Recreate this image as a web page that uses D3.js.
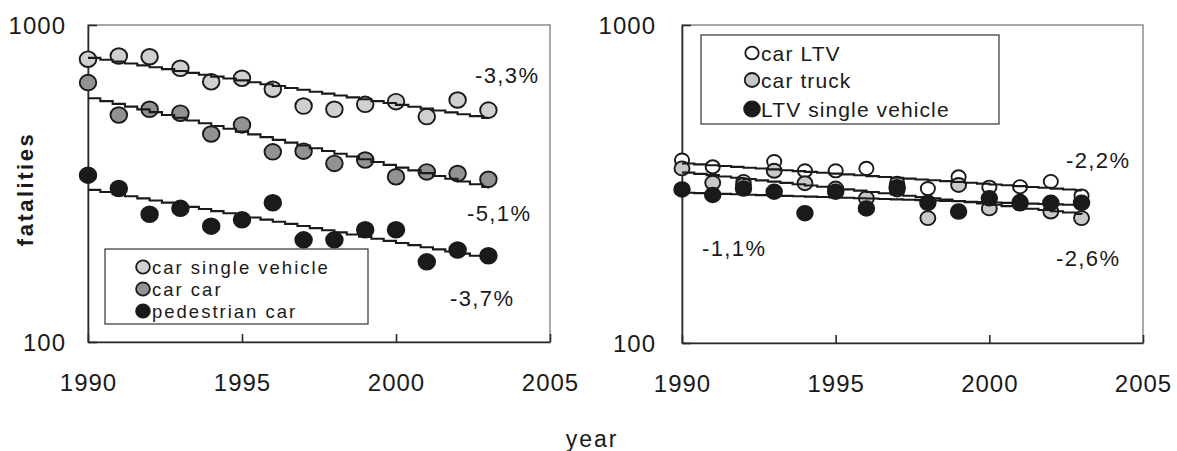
<!DOCTYPE html>
<html>
<head>
<meta charset="utf-8">
<script src="https://cdn.jsdelivr.net/npm/d3@7"></script>
<style>
  html, body { margin: 0; padding: 0; background: #fff; }
  svg { display: block; font-family: 'Liberation Sans', Arial, sans-serif; }
  .axis text { font-size: 24px; letter-spacing: 1px; fill: #1a1a1a; }
  .legend text { font-size: 21px; letter-spacing: 1.1px; fill: #1a1a1a; }
  .legend.small text { font-size: 18.5px; letter-spacing: 2px; }
  .rate { font-size: 22px; letter-spacing: 1.4px; fill: #1a1a1a; }
</style>
</head>
<body>
<div id="chart"></div>
<script>
// data
const years = [1990, 1991, 1992, 1993, 1994, 1995, 1996, 1997, 1998, 1999, 2000, 2001, 2002, 2003];

const carSingle = [780, 798, 794, 730, 662, 679, 627, 555, 542, 562, 573, 514, 580, 539];
const carCar = [658, 520, 542, 527, 453, 484, 398, 400, 366, 375, 332, 344, 340, 326];
const pedestrianCar = [336, 305, 253, 264, 232, 243, 275, 210, 210, 226, 226, 179, 195, 187];

const carLTV = [376, 358, 322, 372, 348, 348, 354, 318, 306, 333, 309, 310, 322, 290];
const carTruck = [354, 319, 314, 348, 318, 306, 285, 304, 247, 314, 265, 278, 259, 247];
const ltvSingle = [304, 292, 306, 299, 256, 299, 265, 309, 276, 259, 285, 275, 276, 276];

const leftNames = ['car single vehicle', 'car car', 'pedestrian car'];
const rightNames = ['car LTV', 'car truck', 'LTV single vehicle'];
const leftRates = ['-3,3%', '-5,1%', '-3,7%'];
const rightRates = ['-2,2%', '-2,6%', '-1,1%'];

const xTicks = [1990, 1995, 2000, 2005];
const yTicks = [100, 1000];

const W = 1177;
const H = 451;

const svg = d3.select('#chart').append('svg')
    .attr('width', W)
    .attr('height', H);

// log-linear least squares fit, evaluated in small steps (the stair look of the original)
function trend(values) {
  const ly = values.map(Math.log);
  const mx = d3.mean(years);
  const my = d3.mean(ly);
  const b = d3.sum(years, (x, i) => (x - mx) * (ly[i] - my)) / d3.sum(years, x => (x - mx) ** 2);
  const a = my - b * mx;
  const pts = [];
  for (let t = years[0]; t <= years[years.length - 1] + 1e-9; t += 0.4) {
    pts.push([t, Math.exp(a + b * t)]);
  }
  pts.push([years[years.length - 1], Math.exp(a + b * years[years.length - 1])]);
  return pts;
}

function panel(opts) {
  const { left, right, top, bottom, series, legend, rates } = opts;

  const x = d3.scaleLinear().domain([1990, 2005]).range([left, right]);
  const y = d3.scaleLog().domain([100, 1000]).range([bottom, top]);

  const g = svg.append('g');

  // plot area border
  g.append('rect')
      .attr('x', left)
      .attr('y', top)
      .attr('width', right - left)
      .attr('height', bottom - top)
      .attr('fill', 'none')
      .attr('stroke', '#8c8c8c')
      .attr('stroke-width', 1.5);

  // axes
  const xAxis = d3.axisBottom(x)
      .tickValues(xTicks)
      .tickFormat(d3.format('d'))
      .tickSizeInner(-8)
      .tickSizeOuter(0)
      .tickPadding(31);

  const yAxis = d3.axisLeft(y)
      .tickValues(yTicks)
      .tickFormat(d3.format('d'))
      .tickSizeInner(-9)
      .tickSizeOuter(0)
      .tickPadding(opts.yPad);

  g.append('g')
      .attr('class', 'x axis')
      .attr('transform', `translate(0, ${bottom})`)
      .call(xAxis);

  g.append('g')
      .attr('class', 'y axis')
      .attr('transform', `translate(${left}, 0)`)
      .call(yAxis);

  g.selectAll('.axis path, .axis line')
      .attr('stroke', '#2a2a2a')
      .attr('stroke-width', 1.6);
  g.selectAll('.axis text')
      .attr('font-family', null)
      .attr('font-size', null);
  g.selectAll('.x.axis text').attr('dy', null).attr('dominant-baseline', 'hanging');
  g.selectAll('.y.axis text').attr('dy', '0.36em');

  // markers
  series.forEach(s => {
    g.append('g').selectAll('ellipse')
      .data(s.values.map((v, i) => [years[i], v]))
      .join('ellipse')
        .attr('cx', d => x(d[0]))
        .attr('cy', d => y(d[1]))
        .attr('rx', s.r + 0.5)
        .attr('ry', s.r)
        .attr('fill', s.fill)
        .attr('stroke', '#1a1a1a')
        .attr('stroke-width', 1.9);
  });

  // trend lines
  const line = d3.line()
      .curve(d3.curveStepAfter)
      .x(d => x(d[0]))
      .y(d => y(d[1]));

  series.forEach(s => {
    g.append('path')
        .datum(trend(s.values))
        .attr('fill', 'none')
        .attr('stroke', '#1a1a1a')
        .attr('stroke-width', 2.1)
        .attr('d', line);
  });

  // growth rate labels
  g.selectAll('.rate')
    .data(rates)
    .join('text')
      .attr('class', 'rate')
      .attr('x', d => d.x)
      .attr('y', d => d.y)
      .attr('dy', '0.36em')
      .text(d => d.text);

  // legend
  const lg = g.append('g').attr('class', legend.cls);
  lg.append('rect')
      .attr('x', legend.x)
      .attr('y', legend.y)
      .attr('width', legend.w)
      .attr('height', legend.h)
      .attr('fill', '#fff')
      .attr('stroke', '#333')
      .attr('stroke-width', 1.2);

  const rows = lg.selectAll('.row')
    .data(series)
    .join('g')
      .attr('class', 'row')
      .attr('transform', (d, i) => `translate(${legend.cx}, ${legend.rows[i]})`);

  rows.append('ellipse')
      .attr('rx', d => d.lr + 0.3)
      .attr('ry', d => d.lr)
      .attr('fill', d => d.fill)
      .attr('stroke', '#1a1a1a')
      .attr('stroke-width', 1.8);

  rows.append('text')
      .attr('x', 9)
      .attr('dy', '0.36em')
      .text(d => d.name);
}

panel({
  left: 88, right: 550, top: 25, bottom: 342, yPad: 22,
  series: [
    { name: leftNames[0], values: carSingle, fill: '#d0d0d0', r: 7.8, lr: 6.6 },
    { name: leftNames[1], values: carCar, fill: '#929292', r: 7.8, lr: 6.6 },
    { name: leftNames[2], values: pedestrianCar, fill: '#1a1a1a', r: 7.8, lr: 6.6 }
  ],
  legend: { cls: 'legend small', x: 105, y: 249, w: 263, h: 75, cx: 143, rows: [267, 289, 311] },
  rates: [
    { text: leftRates[0], x: 475, y: 75 },
    { text: leftRates[1], x: 467, y: 213 },
    { text: leftRates[2], x: 450, y: 298 }
  ]
});

panel({
  left: 682, right: 1143, top: 25, bottom: 343, yPad: 26,
  series: [
    { name: rightNames[0], values: carLTV, fill: '#ffffff', r: 6.6, lr: 6.4 },
    { name: rightNames[1], values: carTruck, fill: '#c8c8c8', r: 7, lr: 7 },
    { name: rightNames[2], values: ltvSingle, fill: '#1a1a1a', r: 7.3, lr: 7.6 }
  ],
  legend: { cls: 'legend', x: 701, y: 35, w: 298, h: 89, cx: 752, rows: [53, 80, 109] },
  rates: [
    { text: rightRates[0], x: 1066, y: 160 },
    { text: rightRates[2], x: 702, y: 248 },
    { text: rightRates[1], x: 1056, y: 258 }
  ]
});

// shared axis titles
svg.append('text')
    .attr('transform', 'translate(33, 189) rotate(-90)')
    .attr('text-anchor', 'middle')
    .attr('font-size', 22)
    .attr('font-weight', 'bold')
    .attr('letter-spacing', 2.5)
    .attr('fill', '#1a1a1a')
    .text('fatalities');

svg.append('text')
    .attr('x', 592)
    .attr('y', 447)
    .attr('text-anchor', 'middle')
    .attr('font-size', 23)
    .attr('letter-spacing', 2)
    .attr('fill', '#1a1a1a')
    .text('year');
</script>
</body>
</html>
